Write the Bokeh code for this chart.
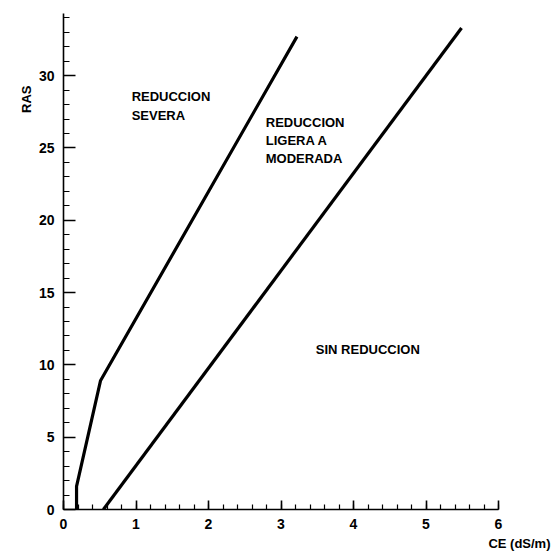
from bokeh.plotting import figure
from bokeh.models import FixedTicker, Label, Range1d, Title
from bokeh.embed import file_html
from bokeh.resources import INLINE

# Boundary between "reducción severa" and "ligera a moderada"
severa_x = [0.18, 0.18, 0.51, 3.22]
severa_y = [0.0, 1.6, 8.9, 32.7]
# Boundary between "ligera a moderada" and "sin reducción"
ligera_x = [0.55, 5.49]
ligera_y = [0.0, 33.3]

x_major = [0, 1, 2, 3, 4, 5, 6]
x_minor = [round(i * 0.2, 1) for i in range(31)]
y_major = [0, 5, 10, 15, 20, 25, 30]
y_minor = list(range(0, 35))

zones = [
    ("REDUCCION\nSEVERA", 0.94, 29.1, 1.3),
    ("REDUCCION\nLIGERA A\nMODERADA", 2.79, 27.3, 1.2),
    ("SIN  REDUCCION", 3.48, 11.6, 1.2),
]
x_title = "CE (dS/m)"
y_title = "RAS"

FONT = "Liberation Sans"

p = figure(width=551, height=552, output_backend="svg", toolbar_location=None,
           x_range=Range1d(0, 6), y_range=Range1d(0, 34.3),
           min_border_left=63, min_border_right=53, min_border_top=13,
           min_border_bottom=42)
p.outline_line_color = None
p.xgrid.visible = False
p.ygrid.visible = False
p.background_fill_color = "white"
p.border_fill_color = "white"

p.line(severa_x, severa_y, line_color="black", line_width=3.2, line_join="round")
p.line(ligera_x, ligera_y, line_color="black", line_width=3.2, line_join="round")

for ax, maj, mino, tin, min_in in ((p.xaxis[0], x_major, x_minor, 9, 5),
                                   (p.yaxis[0], y_major, y_minor, 12, 6)):
    ax.ticker = FixedTicker(ticks=maj, minor_ticks=mino)
    ax.major_tick_in = tin
    ax.major_tick_out = 0
    ax.minor_tick_in = min_in
    ax.minor_tick_out = 0
    ax.axis_line_width = 1.6
    ax.major_tick_line_width = 1.6
    ax.minor_tick_line_width = 1.2
    ax.axis_line_color = "black"
    ax.major_tick_line_color = "black"
    ax.minor_tick_line_color = "black"
    ax.major_label_text_font = FONT
    ax.major_label_text_font_size = "14px"
    ax.major_label_text_font_style = "bold"
    ax.major_label_text_color = "black"
    ax.major_label_standoff = 9

for txt, x, y, lh in zones:
    p.add_layout(Label(x=x, y=y, text=txt, text_font=FONT, text_font_size="13px",
                       text_font_style="bold", text_color="black",
                       text_align="left", text_baseline="top", text_line_height=lh))

p.add_layout(Title(text=y_title, align="right", offset=72, vertical_align="top",
                   text_font=FONT, text_font_size="13px", text_font_style="bold",
                   text_color="black", standoff=0), "left")
p.add_layout(Title(text=x_title, align="right", offset=-52, vertical_align="bottom",
                   text_font=FONT, text_font_size="13px", text_font_style="bold",
                   text_color="black", standoff=4), "below")

open("out.html", "w").write(file_html(p, INLINE))
